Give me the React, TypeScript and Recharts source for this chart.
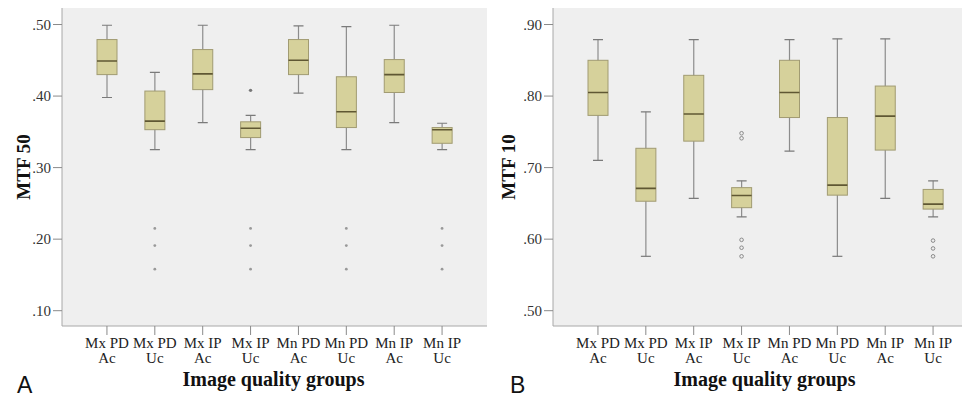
import React from 'react';
import { ComposedChart, Bar, Line, XAxis, YAxis, CartesianGrid, Label } from 'recharts';

const serif = '"Liberation Serif", "Times New Roman", serif';
const sans = '"Liberation Sans", Arial, sans-serif';

const groups = ['Mx PD Ac', 'Mx PD Uc', 'Mx IP Ac', 'Mx IP Uc', 'Mn PD Ac', 'Mn PD Uc', 'Mn IP Ac', 'Mn IP Uc'];

// MTF 50 (panel A)
const mtf50Min = [0.398, 0.325, 0.363, 0.325, 0.404, 0.325, 0.363, 0.325];
const mtf50Q1 = [0.43, 0.353, 0.409, 0.342, 0.43, 0.356, 0.405, 0.334];
const mtf50Median = [0.449, 0.365, 0.431, 0.355, 0.45, 0.378, 0.43, 0.353];
const mtf50Q3 = [0.479, 0.407, 0.465, 0.364, 0.479, 0.427, 0.451, 0.356];
const mtf50Max = [0.499, 0.433, 0.499, 0.373, 0.498, 0.497, 0.499, 0.362];
const mtf50Outliers = [[], [0.215, 0.191, 0.158], [], [0.215, 0.191, 0.158], [], [0.215, 0.191, 0.158], [], [0.215, 0.191, 0.158]];
const mtf50Extremes = [null, null, null, 0.408, null, null, null, null];
const mtf50Ticks = [0.1, 0.2, 0.3, 0.4, 0.5];

// MTF 10 (panel B)
const mtf10Min = [0.71, 0.576, 0.657, 0.631, 0.723, 0.576, 0.657, 0.631];
const mtf10Q1 = [0.773, 0.653, 0.737, 0.644, 0.77, 0.6615, 0.7245, 0.642];
const mtf10Median = [0.805, 0.671, 0.775, 0.661, 0.805, 0.6755, 0.772, 0.649];
const mtf10Q3 = [0.85, 0.727, 0.829, 0.672, 0.85, 0.77, 0.814, 0.6695];
const mtf10Max = [0.879, 0.778, 0.879, 0.6815, 0.879, 0.88, 0.88, 0.6815];
const mtf10Outliers = [[], [], [], [0.748, 0.741, 0.599, 0.588, 0.576], [], [], [], [0.598, 0.587, 0.576]];
const mtf10Extremes = [null, null, null, null, null, null, null, null];
const mtf10Ticks = [0.5, 0.6, 0.7, 0.8, 0.9];

const OUT_COLS = 5;

const buildRows = (mins, q1s, meds, q3s, maxs, outs, exts) =>
  groups.map((name, i) => {
    const row: any = { name, min: mins[i], q1: q1s[i], median: meds[i], q3: q3s[i], max: maxs[i], ext: exts[i] };
    for (let k = 0; k < OUT_COLS; k++) row['o' + k] = outs[i][k] ?? null;
    return row;
  });

const fmt = (v: number) => v.toFixed(2).replace(/^0/, '');

const BoxShape = (props: any) => {
  const { x, y, width, height, payload } = props;
  if (!payload) return null;
  const top = Math.min(y, y + height);
  const h = Math.abs(height);
  const { min, q1, median, q3, max } = payload;
  const py = (v: number) => top + (h * (max - v)) / (max - min);
  const cx = x + width / 2;
  const cap = 5;
  return (
    <g>
      <line x1={cx} x2={cx} y1={py(max)} y2={py(min)} stroke="#8c8c8c" strokeWidth={1.2} />
      <line x1={cx - cap} x2={cx + cap} y1={py(max)} y2={py(max)} stroke="#7a7a7a" strokeWidth={1.2} />
      <line x1={cx - cap} x2={cx + cap} y1={py(min)} y2={py(min)} stroke="#7a7a7a" strokeWidth={1.2} />
      <rect x={x} y={py(q3)} width={width} height={py(q1) - py(q3)} fill="#d6d19b" stroke="#a19b72" strokeWidth={1} />
      <line x1={x} x2={x + width} y1={py(median)} y2={py(median)} stroke="#5f5733" strokeWidth={1.6} />
    </g>
  );
};

const GroupTick = (props: any) => {
  const { x, y, payload } = props;
  const words = String(payload.value).split(' ');
  return (
    <text x={x} y={y} textAnchor="middle" fontFamily={serif} fontSize={15} fill="#222">
      <tspan x={x} dy={11}>{words.slice(0, 2).join(' ')}</tspan>
      <tspan x={x} dy={15}>{words[2]}</tspan>
    </text>
  );
};

const Panel = ({ left, yAxisWidth, width, yLabel, domain, ticks, rows, openCircles, titleOffset, letter, letterX }: any) => {
  const outDot = (p: any) => {
    const { cx, cy, value, index } = p;
    if (value == null || cy == null || Number.isNaN(cy)) return <g key={'n' + index} />;
    return openCircles ? (
      <circle key={'o' + index + '-' + cy} cx={cx} cy={cy} r={1.8} fill="none" stroke="#8a8a8a" strokeWidth={1} />
    ) : (
      <circle key={'o' + index + '-' + cy} cx={cx} cy={cy} r={1.4} fill="#999" />
    );
  };
  const extDot = (p: any) => {
    const { cx, cy, value, index } = p;
    if (value == null || cy == null || Number.isNaN(cy)) return <g key={'e' + index} />;
    return <circle key={'x' + index} cx={cx} cy={cy} r={1.7} fill="#777" />;
  };
  return (
    <div style={{ position: 'absolute', left, top: 0 }}>
      <ComposedChart width={width} height={397} data={rows} margin={{ top: 8, right: 3, bottom: 0, left: 0 }}>
        <CartesianGrid fill="#efefef" horizontal={false} vertical={false} />
        <XAxis
          dataKey="name"
          height={71}
          padding={{ left: 21, right: 21 }}
          tick={<GroupTick />}
          tickSize={9}
          tickLine={{ stroke: '#8a8a8a' }}
          axisLine={{ stroke: '#a8a8a8' }}
          interval={0}
        >
          <Label
            content={(lp: any) => {
              const vb = lp.viewBox;
              return (
                <g>
                  <text x={vb.x + vb.width / 2 - 1} y={386} textAnchor="middle" fontFamily={serif} fontWeight="bold" fontSize={20} fill="#111">
                    Image quality groups
                  </text>
                  <text x={letterX} y={393} fontFamily={sans} fontSize={23} fill="#111">
                    {letter}
                  </text>
                </g>
              );
            }}
          />
        </XAxis>
        <XAxis xAxisId="top" orientation="top" dataKey="name" height={0} tick={false} tickLine={false} axisLine={{ stroke: '#a8a8a8' }} />
        <YAxis
          width={yAxisWidth}
          domain={domain}
          ticks={ticks}
          allowDataOverflow
          type="number"
          tickFormatter={fmt}
          tickSize={9}
          tickLine={{ stroke: '#8a8a8a' }}
          axisLine={{ stroke: '#a8a8a8' }}
          tick={{ fontFamily: serif, fontSize: 15, fill: '#333' }}
        >
          <Label
            content={(lp: any) => {
              const vb = lp.viewBox;
              const cx = vb.x + vb.width - titleOffset;
              const cy = vb.y + vb.height / 2;
              return (
                <text x={cx} y={cy} transform={`rotate(-90 ${cx} ${cy})`} textAnchor="middle" dominantBaseline="central" fontFamily={serif} fontWeight="bold" fontSize={19} fill="#111">
                  {yLabel}
                </text>
              );
            }}
          />
        </YAxis>
        <YAxis yAxisId="right" orientation="right" width={0} tick={false} tickLine={false} axisLine={{ stroke: '#a8a8a8' }} />
        <Bar dataKey={(d: any) => [d.min, d.max]} barSize={20} shape={BoxShape} isAnimationActive={false} />
        {Array.from({ length: OUT_COLS }, (_, k) => (
          <Line key={k} dataKey={'o' + k} stroke="none" dot={outDot} activeDot={false} isAnimationActive={false} legendType="none" />
        ))}
        <Line dataKey="ext" stroke="none" dot={extDot} activeDot={false} isAnimationActive={false} legendType="none" />
      </ComposedChart>
    </div>
  );
};

export default function App() {
  const rowsA = buildRows(mtf50Min, mtf50Q1, mtf50Median, mtf50Q3, mtf50Max, mtf50Outliers, mtf50Extremes);
  const rowsB = buildRows(mtf10Min, mtf10Q1, mtf10Median, mtf10Q3, mtf10Max, mtf10Outliers, mtf10Extremes);
  return (
    <div style={{ position: 'absolute', left: 0, top: 0, width: 962, height: 397, overflow: 'hidden', background: '#fff' }}>
      <Panel
        left={0}
        width={490}
        yAxisWidth={62}
        yLabel="MTF 50"
        domain={[0.0786, 0.5231]}
        ticks={mtf50Ticks}
        rows={rowsA}
        openCircles={false}
        titleOffset={39}
        letter="A"
        letterX={17}
      />
      <Panel
        left={490}
        width={491}
        yAxisWidth={63}
        yLabel="MTF 10"
        domain={[0.4786, 0.9231]}
        ticks={mtf10Ticks}
        rows={rowsB}
        openCircles={true}
        titleOffset={45}
        letter="B"
        letterX={20}
      />
    </div>
  );
}
